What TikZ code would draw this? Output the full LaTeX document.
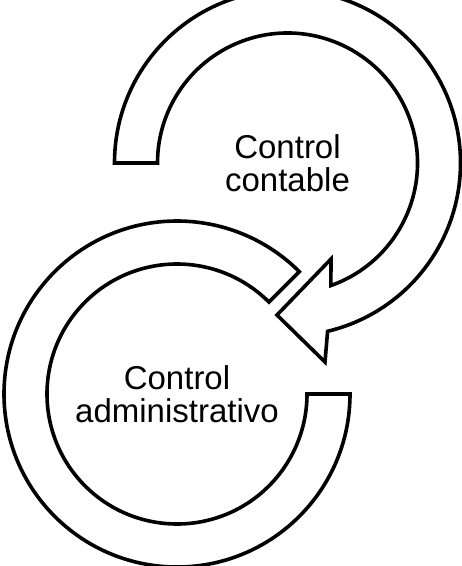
\documentclass[tikz,border=0pt]{standalone}
\usepackage{fontspec}
\setmainfont{Liberation Sans}
\begin{document}
\begin{tikzpicture}[x=1pt,y=1pt,
  ring/.style={draw=black, fill=white, line width=3.6pt, line join=miter},
  lbl/.style={align=center, font=\fontsize{33pt}{33pt}\selectfont, inner sep=0pt}]
\useasboundingbox[fill=white] (0,0) rectangle (462,-566);
\coordinate (c1) at (287.5,-163);
\coordinate (c2) at (177,-394);
% lower ring
\draw[ring] ([shift={(0:173)}]c2) arc[start angle=0, end angle=-315, radius=173]
  -- ([shift={(45:130)}]c2) arc[start angle=45, end angle=360, radius=130] -- cycle;
% upper arrow
\draw[ring] ([shift={(180:173)}]c1) arc[start angle=180, end angle=-76.6, radius=173]
  -- (325,-362) -- (277,-315) -- (331,-259)
  -- ([shift={(-70.5:130)}]c1) arc[start angle=-70.5, end angle=180, radius=130] -- cycle;
\node[lbl] (cont) at (c1) {Control\\contable};
\node[lbl] (adm) at (c2) {Control\\administrativo};
\end{tikzpicture}
\end{document}
